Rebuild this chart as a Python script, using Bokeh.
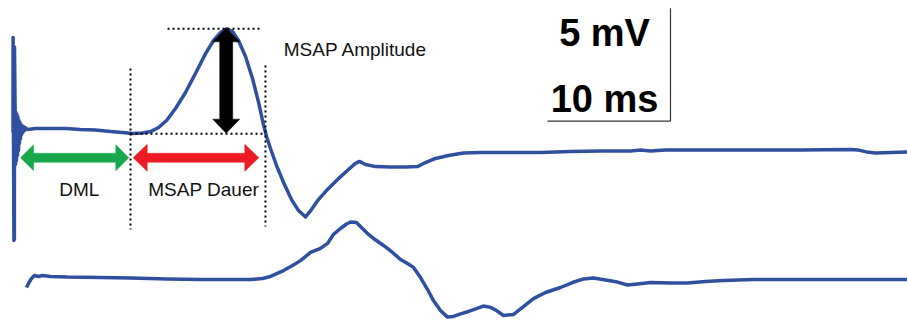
from bokeh.plotting import figure
from bokeh.models import Range1d, ColumnDataSource
from bokeh.core.properties import value
from bokeh.embed import file_html
from bokeh.resources import INLINE

# ---- recorded traces (time in ms, potential in mV, traces stacked with an offset) ----
trace1_ms = [1.016, 1.024, 1.090, 1.130, 1.138, 1.187, 1.220, 1.260, 1.301, 1.341,
             1.382, 1.423, 1.463, 1.504, 1.545, 1.585, 1.626, 1.667, 1.707, 1.748,
             1.789, 1.870, 1.951, 2.033, 2.195,
             2.85, 4.07, 5.28, 6.50, 7.72, 8.94, 9.92, 10.73, 11.54, 12.20,
             12.85, 13.50, 14.23, 15.04, 15.85, 16.67, 17.32, 17.89, 18.37, 18.86,
             19.35, 19.92, 20.49, 20.98, 21.38, 21.63, 21.95, 22.44, 23.01, 23.66,
             24.23, 24.80, 25.28, 25.85, 26.59, 27.48, 28.29, 28.86, 29.19, 29.67,
             30.49, 31.71, 32.93, 33.90, 34.55, 35.37, 36.42, 37.64, 39.02, 41.46,
             43.90, 46.34, 48.78, 51.22, 52.03, 52.85, 54.07, 56.91, 60.98, 65.04,
             69.11, 69.76, 70.41, 71.14, 72.36, 73.74]
trace1_mv = [8.32, 12.52, 3.54, 3.60, 12.10, 9.38, 6.90, 9.20, 7.08, 9.11,
             7.30, 9.00, 7.52, 8.85, 7.83, 8.76, 8.05, 8.67, 8.23, 8.62,
             8.31, 8.58, 8.40, 8.53, 8.45,
             8.50, 8.50, 8.50, 8.45, 8.43, 8.36, 8.32, 8.27, 8.30, 8.36,
             8.54, 8.85, 9.38, 10.09, 10.93, 11.81, 12.39, 12.74, 12.90, 12.79,
             12.39, 11.68, 10.71, 9.65, 8.67, 8.14, 7.61, 6.86, 6.11, 5.35,
             4.87, 4.58, 4.91, 5.35, 5.80, 6.28, 6.68, 6.95, 7.04, 6.90,
             6.81, 6.79, 6.79, 6.81, 6.99, 7.17, 7.30, 7.41, 7.43, 7.43,
             7.43, 7.48, 7.50, 7.50, 7.54, 7.50, 7.54, 7.55, 7.55, 7.55,
             7.57, 7.54, 7.46, 7.41, 7.43, 7.46]

trace2_ms = [2.11, 2.28, 2.52, 2.76, 3.09, 3.41, 4.07, 5.45, 8.13, 10.57,
             13.58, 16.26, 20.33, 21.30, 21.95, 23.01, 23.74, 24.39, 25.20, 26.02,
             26.59, 27.07, 27.64, 28.13, 28.46, 28.94, 29.43, 29.92, 30.33, 31.14,
             31.87, 32.52, 33.09, 33.58, 34.15, 34.72, 35.20, 35.77, 36.34, 36.83,
             37.40, 38.05, 38.70, 39.27, 39.84, 40.33, 40.89, 41.71, 42.44, 43.33,
             44.31, 45.53, 46.50, 47.40, 48.21, 49.19, 50.16, 50.98, 51.79, 52.85,
             54.47, 55.85, 57.32, 58.78, 61.22, 65.04, 69.11, 73.74]
trace2_mv = [1.46, 1.64, 1.86, 1.99, 1.95, 1.99, 1.95, 1.92, 1.90, 1.88,
             1.84, 1.81, 1.81, 1.86, 1.95, 2.21, 2.43, 2.65, 3.01, 3.19,
             3.41, 3.81, 4.07, 4.27, 4.36, 4.34, 4.07, 3.81, 3.63, 3.32,
             3.01, 2.70, 2.52, 2.35, 1.90, 1.37, 0.88, 0.44, 0.15, 0.18,
             0.29, 0.40, 0.53, 0.64, 0.58, 0.44, 0.22, 0.27, 0.58, 0.97,
             1.24, 1.46, 1.68, 1.84, 1.88, 1.79, 1.70, 1.57, 1.62, 1.68,
             1.66, 1.66, 1.73, 1.77, 1.81, 1.81, 1.81, 1.81]

# ---- measurement markers on the upper trace ----
stim_ms = 1.63          # stimulus
onset_ms = 10.57        # response onset (end of distal motor latency)
offset_ms = 21.54       # return to baseline (end of duration)
peak_ms = 18.37
peak_mv = 12.91
baseline_mv = 8.26
arrow_row_mv = 7.20     # height of the horizontal interval arrows
marker_top_mv = [11.15, 11.28]
marker_bottom_mv = [4.03, 4.16]

# ---- calibration bar ----
cal_corner_ms = 54.47
cal_corner_mv = 8.82
cal_time_ms = 10
cal_amp_mv = 5

labels = ["DML", "MSAP Dauer", "MSAP Amplitude"]
label_ms = [6.40, 16.52, 23.03]
label_mv = [5.80, 5.80, 11.98]

X_MAX = 73.74
Y_MAX = 14.16
W, H = 907, 320
PX_X = W / X_MAX
PX_Y = H / Y_MAX

TRACE = "#2f4f9f"

p = figure(width=W, height=H, x_range=Range1d(0, X_MAX), y_range=Range1d(0, Y_MAX),
           x_axis_type=None, y_axis_type=None, output_backend="svg",
           toolbar_location=None, min_border=0)
p.grid.visible = False
p.outline_line_color = None
p.background_fill_color = "white"
p.border_fill_color = "white"

p.line(trace1_ms, trace1_mv, line_color=TRACE, line_width=3.5, line_join="round")
p.line(trace2_ms, trace2_mv, line_color=TRACE, line_width=3.5, line_join="round")

# dotted reference lines
dot = dict(line_color="black", line_width=2, line_dash="2 3")
p.segment(x0=[peak_ms - 4.79, onset_ms], y0=[peak_mv, baseline_mv],
          x1=[peak_ms + 2.93, offset_ms], y1=[peak_mv, baseline_mv], **dot)
p.segment(x0=[onset_ms, offset_ms], y0=marker_top_mv,
          x1=[onset_ms, offset_ms], y1=marker_bottom_mv, **dot)


def double_arrow(x0, y0, x1, y1, shaft, head_w, head_l):
    """Polygon of a double-headed arrow; sizes are given in screen pixels."""
    if y0 == y1:
        hl = head_l / PX_X
        hw = head_w / 2 / PX_Y
        hs = shaft / 2 / PX_Y
        xs = [x0, x0 + hl, x0 + hl, x1 - hl, x1 - hl, x1, x1 - hl, x1 - hl, x0 + hl, x0 + hl]
        ys = [y0, y0 + hw, y0 + hs, y0 + hs, y0 + hw, y0, y0 - hw, y0 - hs, y0 - hs, y0 - hw]
    else:
        hl = head_l / PX_Y
        hw = head_w / 2 / PX_X
        hs = shaft / 2 / PX_X
        lo, hi = min(y0, y1), max(y0, y1)
        ys = [lo, lo + hl, lo + hl, hi - hl, hi - hl, hi, hi - hl, hi - hl, lo + hl, lo + hl]
        xs = [x0, x0 + hw, x0 + hs, x0 + hs, x0 + hw, x0, x0 - hw, x0 - hs, x0 - hs, x0 - hw]
    return xs, ys


arrows = [
    (double_arrow(stim_ms, arrow_row_mv, onset_ms - 0.14, arrow_row_mv, 9, 26, 13), "#18a84a"),
    (double_arrow(onset_ms + 0.22, arrow_row_mv, offset_ms - 0.54, arrow_row_mv, 9, 27, 14), "#ed1c24"),
    (double_arrow(peak_ms - 0.02, peak_mv + 0.04, peak_ms - 0.02, baseline_mv + 0.03, 13, 27, 14), "black"),
]
src = ColumnDataSource(dict(xs=[a[0][0] for a in arrows], ys=[a[0][1] for a in arrows],
                            color=[a[1] for a in arrows]))
p.patches("xs", "ys", source=src, fill_color="color", line_color="color", line_width=0.5)

# calibration bar
p.segment(x0=[cal_corner_ms, cal_corner_ms - cal_time_ms], y0=[cal_corner_mv + cal_amp_mv, cal_corner_mv],
          x1=[cal_corner_ms, cal_corner_ms], y1=[cal_corner_mv, cal_corner_mv],
          line_color="#333333", line_width=1.2)
p.text(x=[cal_corner_ms - 5.36, cal_corner_ms - 5.36], y=[cal_corner_mv + 3.92, cal_corner_mv + 0.96],
       text=[f"{cal_amp_mv} mV", f"{cal_time_ms} ms"],
       text_font=value("Liberation Sans"), text_font_style="bold", text_font_size="38px",
       text_align="center", text_baseline="alphabetic", text_color="black")

p.text(x=label_ms[:2], y=label_mv[:2], text=labels[:2],
       text_font=value("Liberation Sans"), text_font_size="19px",
       text_align="center", text_baseline="alphabetic", text_color="#111111")
p.text(x=label_ms[2:], y=label_mv[2:], text=labels[2:],
       text_font=value("Liberation Sans"), text_font_size="19px",
       text_align="left", text_baseline="alphabetic", text_color="#111111")

open("out.html", "w").write(file_html(p, INLINE))
